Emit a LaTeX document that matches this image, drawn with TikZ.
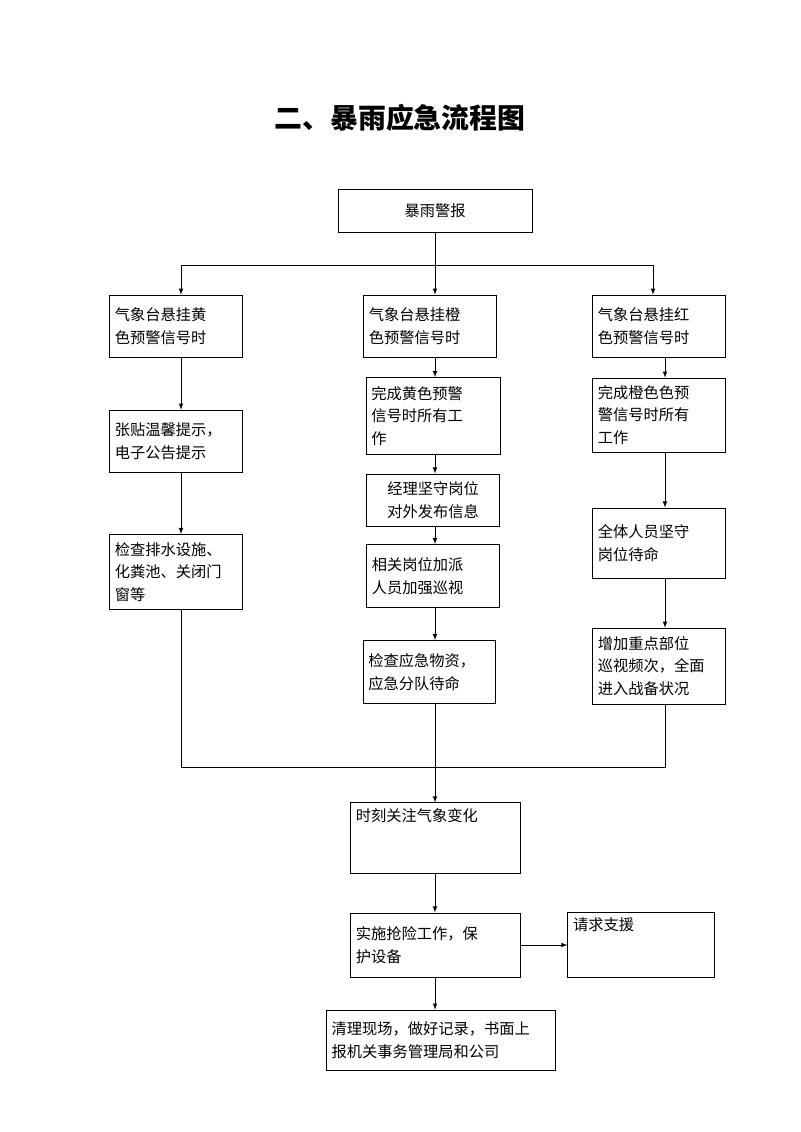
\documentclass[tikz,border=0pt]{standalone}
\usepackage{fontspec}
\newfontfamily\cjk{Noto Sans CJK SC}
\usetikzlibrary{positioning}

\begin{document}
\begin{tikzpicture}[x=0.0265cm, y=-0.0265cm, >=latex,
	box/.style={
		rectangle,
		draw=black, semithick,
		inner sep=4pt,
		align=left,
		font=\cjk\fontsize{11.5}{17}\selectfont
	},
	link/.style={->, semithick}]

	\useasboundingbox (0,0) rectangle (800,1132);

	% Title
	\node [font=\cjk\bfseries\fontsize{21}{24}\selectfont] (title) at (400,118) {二、暴雨应急流程图};

	% Top node
	\node [box, minimum width=5.14cm, minimum height=1.14cm, align=center] (alarm) at (435,211) {暴雨警报};

	% First row
	\node [box, minimum width=3.52cm, minimum height=1.64cm, text width=3.24cm] (yellow) at (176,326) {气象台悬挂黄\\色预警信号时};
	\node [box, minimum width=3.52cm, minimum height=1.64cm, text width=3.24cm] (orange) at (430,326) {气象台悬挂橙\\色预警信号时};
	\node [box, minimum width=3.52cm, minimum height=1.64cm, text width=3.24cm] (red) at (659,326) {气象台悬挂红\\色预警信号时};

	% Left column
	\node [box, minimum width=3.52cm, minimum height=1.64cm, text width=3.24cm] (notice) at (176,441) {张贴温馨提示，\\电子公告提示};
	\node [box, minimum width=3.52cm, minimum height=1.99cm, text width=3.24cm] (drain) at (176,572) {检查排水设施、\\化粪池、关闭门\\窗等};

	% Middle column
	\node [box, minimum width=3.55cm, minimum height=2.04cm, text width=3.27cm] (midA) at (433,416) {完成黄色预警\\信号时所有工\\作};
	\node [box, minimum width=3.52cm, minimum height=1.38cm, align=center] (midB) at (433,500) {经理坚守岗位\\对外发布信息};
	\node [box, minimum width=3.52cm, minimum height=1.67cm, text width=3.24cm] (midC) at (433,576) {相关岗位加派\\人员加强巡视};
	\node [box, minimum width=3.5cm, minimum height=1.67cm, text width=3.22cm] (midD) at (429,672) {检查应急物资，\\应急分队待命};

	% Right column
	\node [box, minimum width=3.52cm, minimum height=1.96cm, text width=3.24cm] (rightA) at (659,415) {完成橙色色预\\警信号时所有\\工作};
	\node [box, minimum width=3.52cm, minimum height=1.86cm, text width=3.24cm] (rightB) at (659,543) {全体人员坚守\\岗位待命};
	\node [box, minimum width=3.52cm, minimum height=2.01cm, text width=3.24cm] (rightC) at (659,666) {增加重点部位\\巡视频次，全面\\进入战备状况};

	% Lower part
	\node [box, minimum width=4.5cm, minimum height=1.72cm, text width=4.2cm] (watch) at (435,838) {时刻关注气象变化\\[1.6em]~};
	\node [box, minimum width=4.5cm, minimum height=1.7cm, text width=4.2cm] (rescue) at (435,945) {实施抢险工作，保\\护设备};
	\node [box, minimum width=3.87cm, minimum height=1.7cm, text width=3.6cm] (support) at (641,945) {请求支援\\[1.2em]~};
	\node [box, minimum width=6.07cm, minimum height=1.59cm, text width=5.8cm] (report) at (441,1040) {清理现场，做好记录，书面上\\报机关事务管理局和公司};

	% Branches from the top node
	\coordinate (split) at (435,265);
	\draw [semithick] (alarm.south) -- (split);
	\draw [link] (split) -| (yellow.north -| 181,0);
	\draw [link] (split) -| (orange.north -| 435,0);
	\draw [link] (split) -| (red.north -| 653,0);

	% Column arrows
	\draw [link] (yellow.south -| 181,0) -- (notice.north -| 181,0);
	\draw [link] (notice.south -| 181,0) -- (drain.north -| 181,0);
	\draw [link] (orange.south -| 435,0) -- (midA.north -| 435,0);
	\draw [link] (midA.south -| 435,0) -- (midB.north -| 435,0);
	\draw [link] (midB.south -| 435,0) -- (midC.north -| 435,0);
	\draw [link] (midC.south -| 435,0) -- (midD.north -| 435,0);
	\draw [link] (red.south -| 665,0) -- (rightA.north -| 665,0);
	\draw [link] (rightA.south -| 665,0) -- (rightB.north -| 665,0);
	\draw [link] (rightB.south -| 665,0) -- (rightC.north -| 665,0);

	% Merge
	\coordinate (merge) at (435,767);
	\draw [semithick] (drain.south -| 181,0) |- (merge);
	\draw [semithick] (rightC.south -| 665,0) |- (merge);
	\draw [link] (midD.south -| 435,0) -- (watch.north);
	\draw [link] (watch.south) -- (rescue.north);
	\draw [link] (rescue.east) -- (support.west);
	\draw [link] (rescue.south) -- (report.north -| 435,0);
\end{tikzpicture}
\end{document}
